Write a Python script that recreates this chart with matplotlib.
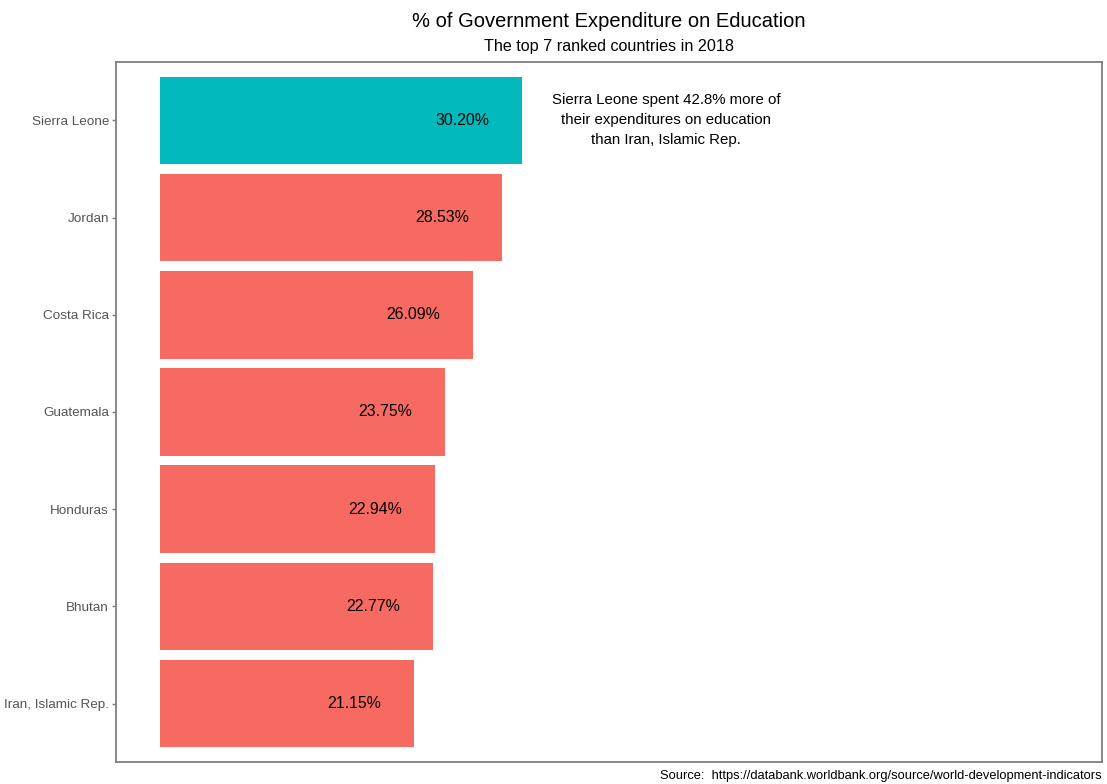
import matplotlib.pyplot as plt
import numpy as np

plt.rcParams['font.family'] = ['Liberation Sans', 'DejaVu Sans']

# Top 7 countries, 2018 (% of government expenditure on education)
countries = ['Sierra Leone', 'Jordan', 'Costa Rica', 'Guatemala',
             'Honduras', 'Bhutan', 'Iran, Islamic Rep.']
values = [30.20, 28.53, 26.09, 23.75, 22.94, 22.77, 21.15]
highlight = 'Sierra Leone'

fig = plt.figure(figsize=(11.07, 7.84), dpi=100)
ax = fig.add_axes([0.1048, 0.0281, 0.8907, 0.8928])

y = np.arange(len(countries))
colors = ['#02B9BE' if c == highlight else '#F76A61' for c in countries]
ax.barh(y, values, height=0.9, color=colors)

# value labels inside the bars
for yi, v in zip(y, values):
    ax.text(v - 5, yi, f'{v:.2f}%', ha='center', va='center', fontsize=11.4, color='black')

# comparison note next to the top bar
pct_more = (values[0] / values[-1] - 1) * 100
ax.text(42.2, 0, f'{countries[0]} spent {pct_more:.1f}% more of\ntheir expenditures on education\nthan {countries[-1]}',
        ha='center', va='center', fontsize=10.8, linespacing=1.55)

ax.set_xlim(-3.67, 78.5)
ax.set_ylim(len(countries) - 0.4, -0.6)
ax.set_yticks(y)
ax.set_yticklabels(countries, fontsize=9.7, color='#555555')
ax.set_xticks([])
ax.tick_params(axis='y', length=3, width=1, color='#7F7F7F', pad=2)
for s in ax.spines.values():
    s.set_color('#7F7F7F')
    s.set_linewidth(1.3)

cx = 0.1048 + 0.8907 / 2
fig.text(cx, 0.973, '% of Government Expenditure on Education', ha='center', va='center', fontsize=14.5)
fig.text(cx, 0.941, 'The top 7 ranked countries in 2018', ha='center', va='center', fontsize=11.6)
fig.text(0.9955, 0.010, 'Source:  https://databank.worldbank.org/source/world-development-indicators',
         ha='right', va='center', fontsize=9.25)

plt.savefig('out.png', dpi=100)
